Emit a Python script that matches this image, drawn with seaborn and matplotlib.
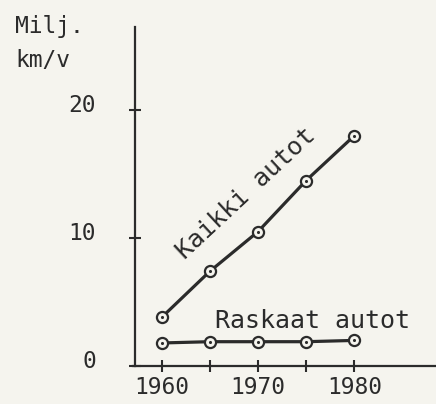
import matplotlib
matplotlib.use("Agg")
import matplotlib.pyplot as plt
import matplotlib.transforms as mtransforms
import numpy as np
import pandas as pd
import seaborn as sns

# Vehicle kilometres per year (millions)
years = [1960, 1965, 1970, 1975, 1980]
kaikki_autot = [3.8, 7.4, 10.5, 14.5, 18.0]
raskaat_autot = [1.8, 1.9, 1.9, 1.9, 2.0]
series_names = ["Kaikki autot", "Raskaat autot"]

y_ticks = [0, 10, 20]
x_major = [1960, 1970, 1980]
x_minor = [1965, 1975]

INK = "#2b2b2b"
PAPER = "#f5f4ee"

df = pd.DataFrame({
    "year": years * 2,
    "value": kaikki_autot + raskaat_autot,
    "series": [series_names[0]] * len(years) + [series_names[1]] * len(years),
})

sns.set_style("ticks")
plt.rcParams["font.family"] = ["DejaVu Sans Mono", "DejaVu Sans"]

fig = plt.figure(figsize=(4.36, 4.04), dpi=100, facecolor=PAPER)
ax = fig.add_axes([132.5 / 436, 38 / 404, 303.5 / 436, 339 / 404])
ax.set_facecolor(PAPER)

sns.lineplot(
    data=df, x="year", y="value", hue="series",
    palette={name: INK for name in series_names},
    marker="o", markersize=8, markerfacecolor=PAPER,
    markeredgecolor=INK, markeredgewidth=1.6,
    linewidth=2.3, legend=False, ax=ax,
)
sns.scatterplot(data=df, x="year", y="value", color=INK, s=5,
                linewidth=0, legend=False, ax=ax, zorder=5)

ax.set_xlim(1956.97, 1988.49)
ax.set_ylim(0, 26.5)

for side in ("top", "right"):
    ax.spines[side].set_visible(False)
for side in ("left", "bottom"):
    ax.spines[side].set_color(INK)
    ax.spines[side].set_linewidth(1.6)
# y-axis sits a little right of where the x-axis begins, as in the drawing
ax.spines["left"].set_position(("data", 1957.28))

ax.set_xticks(x_major)
ax.set_xticks(x_minor, minor=True)
ax.set_yticks(y_ticks)
ax.tick_params(axis="both", which="both", direction="inout", length=9,
               width=1.5, color=INK, labelcolor=INK, labelsize=16.5)
ax.tick_params(axis="x", which="both", pad=3)
ax.tick_params(axis="y", pad=24)
ax.set_xlabel("")
ax.set_ylabel("")

shift = mtransforms.ScaledTranslation(0, 7 / 100, fig.dpi_scale_trans)
for lab in ax.get_yticklabels():
    lab.set_transform(lab.get_transform() + shift)

fig.text(15 / 436, 1 - 33 / 404, "Milj.", fontsize=16.5, color=INK, va="baseline", ha="left")
fig.text(15 / 436, 1 - 67 / 404, "km/v", fontsize=16.5, color=INK, va="baseline", ha="left")

ax.text(1968.8, 13.5, series_names[0], fontsize=18, color=INK, rotation=43,
        rotation_mode="anchor", ha="center", va="center")
ax.text(1965.5, 2.97, series_names[1], fontsize=18, color=INK,
        ha="left", va="baseline")

fig.savefig("out.png", dpi=100, facecolor=PAPER)
